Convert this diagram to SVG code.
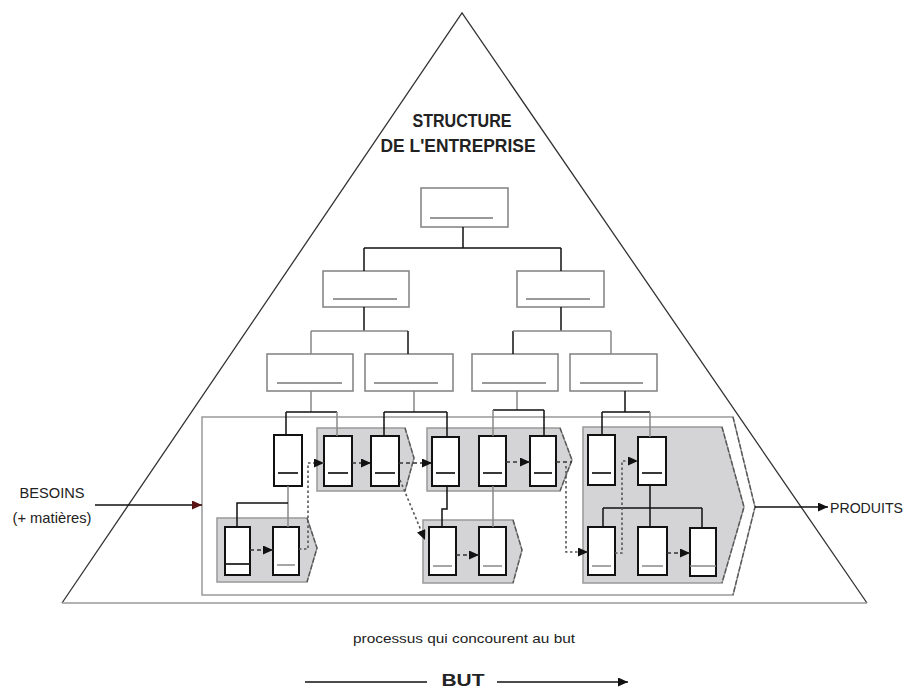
<svg xmlns="http://www.w3.org/2000/svg" width="907" height="691" viewBox="0 0 907 691">
<style>
.org{fill:#fff;stroke:#888;stroke-width:1.6}
.orgl{stroke:#777;stroke-width:1.6}
.pent{fill:#d4d4d6;stroke:#999;stroke-width:1.5}
.pedge{fill:none;stroke:#555;stroke-width:1.3;stroke-dasharray:5,2}
.pb{fill:#fff;stroke:#111;stroke-width:2}
.ld{stroke:#222;stroke-width:1.8}
.lg{stroke:#888;stroke-width:1.5}
.c{fill:none;stroke:#111;stroke-width:1.5}
.cg{fill:none;stroke:#888;stroke-width:1.5}
.f{fill:none;stroke:#333;stroke-width:1.6;stroke-dasharray:4,3}
.fd{fill:none;stroke:#555;stroke-width:1.6;stroke-dasharray:2.5,2.5}
.t{font-family:"Liberation Sans",Arial,sans-serif;fill:#222}
</style>
<defs>
<marker id="ah" markerUnits="userSpaceOnUse" markerWidth="10" markerHeight="9" refX="10" refY="4.5" orient="auto">
<path d="M0,0 L10,4.5 L0,9 Z" fill="#111"/>
</marker>
<marker id="ahr" markerUnits="userSpaceOnUse" markerWidth="10" markerHeight="9" refX="10" refY="4.5" orient="auto">
<path d="M0,0 L10,4.5 L0,9 Z" fill="#5a1414"/>
</marker>
</defs>
<rect width="907" height="691" fill="#fff"/>

<g id="pyramid">
<polyline points="62,603 462,13 867,603" fill="none" stroke="#333" stroke-width="1.3"/>
<line x1="62" y1="603" x2="867" y2="603" stroke="#999" stroke-width="1.5"/>
</g>

<g id="title">
<text class="t" x="462" y="127" font-size="18" font-weight="bold" text-anchor="middle" textLength="99" lengthAdjust="spacingAndGlyphs">STRUCTURE</text>
<text class="t" x="458" y="152" font-size="18" font-weight="bold" text-anchor="middle" textLength="155" lengthAdjust="spacingAndGlyphs">DE L'ENTREPRISE</text>
</g>

<g id="process-container">
<path d="M202,417 H733 L755,507 L733,595 H202 Z" fill="#fff" stroke="#999" stroke-width="1.5"/>
<path d="M733,417 L755,507 L733,595" class="pedge"/>
</g>

<g id="org-top"><rect class="org" x="421" y="188" width="87" height="39"/><line class="orgl" x1="430" y1="218" x2="493" y2="218"/></g>
<g id="org-l2a"><rect class="org" x="323" y="271" width="86" height="36"/><line class="orgl" x1="333" y1="299" x2="397" y2="299"/></g>
<g id="org-l2b"><rect class="org" x="517" y="271" width="87" height="36"/><line class="orgl" x1="526" y1="299" x2="590" y2="299"/></g>
<g id="org-l3a"><rect class="org" x="267" y="354" width="86" height="37"/><line class="orgl" x1="277" y1="383" x2="342" y2="383"/></g>
<g id="org-l3b"><rect class="org" x="365" y="354" width="88" height="37"/><line class="orgl" x1="374" y1="383" x2="438" y2="383"/></g>
<g id="org-l3c"><rect class="org" x="472" y="354" width="86" height="37"/><line class="orgl" x1="482" y1="383" x2="546" y2="383"/></g>
<g id="org-l3d"><rect class="org" x="570" y="354" width="87" height="37"/><line class="orgl" x1="580" y1="383" x2="643" y2="383"/></g>

<g id="proc-1"><path class="pent" d="M317,428 H405 L414,458 L405,491 H317 Z"/><path class="pedge" d="M405,428 L414,458 L405,491"/></g>
<g id="proc-2"><path class="pent" d="M217,518 H307 L317,548 L307,582 H217 Z"/><path class="pedge" d="M307,518 L317,548 L307,582"/></g>
<g id="proc-3"><path class="pent" d="M427,428 H560 L572,460 L560,491 H427 Z"/><path class="pedge" d="M560,428 L572,460 L560,491"/></g>
<g id="proc-4"><path class="pent" d="M423,520 H513 L522,550 L513,583 H423 Z"/><path class="pedge" d="M513,520 L522,550 L513,583"/></g>
<g id="proc-5"><path class="pent" d="M583,427 H722 L744,507 L722,583 H583 Z"/><path class="pedge" d="M722,427 L744,507 L722,583"/></g>

<g id="task-a"><rect class="pb" x="274" y="435" width="28" height="51"/><line class="ld" x1="278" y1="473" x2="298" y2="473"/></g>
<g id="task-b"><rect class="pb" x="324" y="436" width="28" height="50"/><line class="ld" x1="328" y1="473" x2="348" y2="473"/></g>
<g id="task-c"><rect class="pb" x="371" y="436" width="28" height="50"/><line class="ld" x1="375" y1="473" x2="395" y2="473"/></g>
<g id="task-d"><rect class="pb" x="432" y="437" width="27" height="49"/><line class="ld" x1="436" y1="473" x2="455" y2="473"/></g>
<g id="task-g"><rect class="pb" x="479" y="436" width="27" height="50"/><line class="ld" x1="483" y1="473" x2="502" y2="473"/></g>
<g id="task-h"><rect class="pb" x="530" y="436" width="26" height="50"/><line class="ld" x1="534" y1="473" x2="552" y2="473"/></g>
<g id="task-l"><rect class="pb" x="588" y="435" width="27" height="50"/><line class="ld" x1="592" y1="473" x2="611" y2="473"/></g>
<g id="task-m"><rect class="pb" x="638" y="437" width="28" height="48"/><line class="ld" x1="642" y1="473" x2="662" y2="473"/></g>
<g id="task-e"><rect class="pb" x="225" y="527" width="25" height="48"/><line class="ld" x1="225" y1="564" x2="250" y2="564"/></g>
<g id="task-f"><rect class="pb" x="273" y="527" width="26" height="48"/><line class="lg" x1="277" y1="565" x2="295" y2="565"/></g>
<g id="task-i"><rect class="pb" x="429" y="527" width="27" height="48"/><line class="lg" x1="433" y1="566" x2="452" y2="566"/></g>
<g id="task-j"><rect class="pb" x="479" y="527" width="27" height="48"/><line class="lg" x1="483" y1="566" x2="502" y2="566"/></g>
<g id="task-n"><rect class="pb" x="588" y="527" width="27" height="48"/><line class="lg" x1="592" y1="566" x2="611" y2="566"/></g>
<g id="task-o"><rect class="pb" x="638" y="527" width="29" height="48"/><line class="lg" x1="642" y1="566" x2="663" y2="566"/></g>
<g id="task-p"><rect class="pb" x="690" y="528" width="26" height="48"/><line class="lg" x1="690" y1="566" x2="716" y2="566"/></g>

<g id="connectors">
<path class="c" d="M463,227 V248 M364,248 H561 M364,248 V271 M561,248 V271"/>
<path class="c" d="M364,307 V331"/>
<path class="cg" d="M311,331 H408 M311,331 V354"/>
<path class="c" d="M408,331 V354"/>
<path class="c" d="M561,307 V331 M513,331 V354"/>
<path class="cg" d="M513,331 H611 M611,331 V354"/>
<path class="cg" d="M311,391 V412 M414,391 V412 M517,391 V410"/>
<path class="c" d="M625,391 V412"/>
<path class="c" d="M286,412 H337 M286,412 V435"/>
<path class="cg" d="M337,412 V436"/>
<path class="c" d="M384,412 H447 M384,412 V436 M447,412 V437"/>
<path class="c" d="M493,410 H544 M544,410 V436"/>
<path class="cg" d="M493,410 V436"/>
<path class="c" d="M602,412 H650 M602,412 V435"/>
<path class="cg" d="M650,412 V437"/>
<path class="cg" d="M288,486 V527"/>
<path class="c" d="M288,503 H237 V527"/>
<path class="c" d="M447,486 V509 H442 V527"/>
<path class="cg" d="M493,486 V527"/>
<path class="c" d="M650,485 V527 M603,508 H702 M603,508 V527 M702,508 V528"/>

<path class="f" d="M250,550 H273" marker-end="url(#ah)"/>
<path class="fd" d="M299,549 H308 V463 H324" marker-end="url(#ah)"/>
<path class="f" d="M352,463 H371" marker-end="url(#ah)"/>
<path class="f" d="M399,463 H432" marker-end="url(#ah)"/>
<path class="f" d="M506,462 H530" marker-end="url(#ah)"/>
<path class="f" d="M556,462 H572"/>
<path class="fd" d="M400,480 L425,540" marker-end="url(#ah)"/>
<path class="fd" d="M566,466 V552 H588" marker-end="url(#ah)"/>
<path class="f" d="M456,555 H479" marker-end="url(#ah)"/>
<path class="fd" d="M615,553 H622 V461 H638" marker-end="url(#ah)"/>
<path class="f" d="M667,553 H690" marker-end="url(#ah)"/>

<path class="c" d="M95,505 H202" marker-end="url(#ahr)"/>
<path class="c" d="M755,507 H828" marker-end="url(#ah)"/>
<path class="c" d="M305,682 H427"/>
<path class="c" d="M497,682 H628" marker-end="url(#ah)"/>
</g>

<g id="labels">
<text class="t" x="52" y="498" font-size="15" text-anchor="middle" textLength="65" lengthAdjust="spacingAndGlyphs">BESOINS</text>
<text class="t" x="52" y="523" font-size="15" text-anchor="middle" textLength="79" lengthAdjust="spacingAndGlyphs">(+ matières)</text>
<text class="t" x="830" y="513" font-size="14.5" textLength="73" lengthAdjust="spacingAndGlyphs">PRODUITS</text>
<text class="t" x="464" y="643" font-size="13" text-anchor="middle" textLength="222" lengthAdjust="spacingAndGlyphs">processus qui concourent au but</text>
<text class="t" x="463" y="686" font-size="17" font-weight="bold" text-anchor="middle" textLength="43" lengthAdjust="spacingAndGlyphs">BUT</text>
</g>
</svg>
